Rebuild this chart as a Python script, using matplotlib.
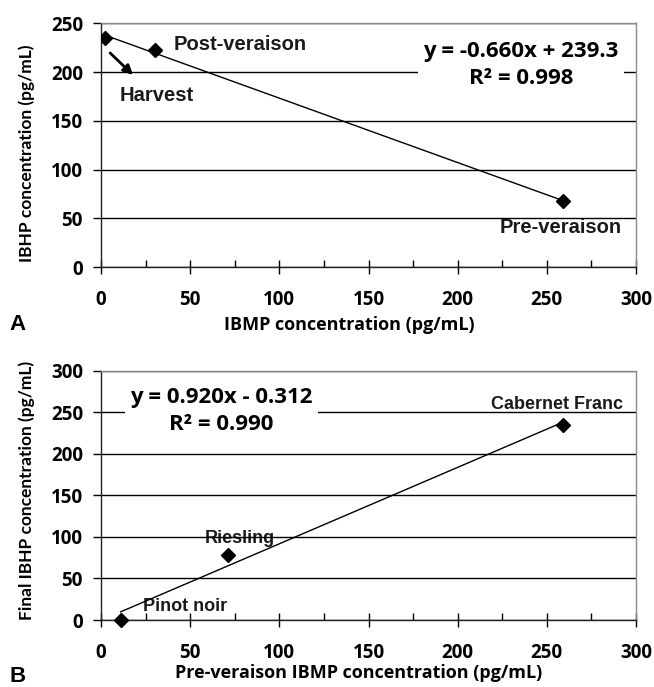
import matplotlib
matplotlib.use('Agg')
import matplotlib.pyplot as plt
import matplotlib.transforms as mtransforms
from matplotlib.ticker import MultipleLocator
import numpy as np

# panel A: IBMP vs IBHP over ripening
a_labels = ['Harvest', 'Post-veraison', 'Pre-veraison']
a_ibmp = [2, 30, 259]
a_ibhp = [235, 223, 68]
a_slope, a_icpt, a_r2 = -0.660, 239.3, 0.998

# panel B: pre-veraison IBMP vs final IBHP per cultivar
b_labels = ['Pinot noir', 'Riesling', 'Cabernet Franc']
b_ibmp = [11, 71, 259]
b_ibhp = [0, 78, 235]
b_slope, b_icpt, b_r2 = 0.920, -0.312, 0.990

CAL = 'Open Sans'          # horizontal Calibri-ish text (the scan is stretched)
CALV = 'Lato'              # narrower face for the rotated labels
ARI = 'Liberation Sans'    # Arial

fig = plt.figure(figsize=(6.54, 6.87), dpi=100)
W, H = 654, 687


def px_axes(l, t, r, b):
    return fig.add_axes([l / W, 1 - b / H, (r - l) / W, (b - t) / H])


def style(ax, ymax):
    ax.set_xlim(0, 300)
    ax.set_ylim(0, ymax)
    ax.xaxis.set_major_locator(MultipleLocator(50))
    ax.xaxis.set_minor_locator(MultipleLocator(25))
    ax.yaxis.set_major_locator(MultipleLocator(50))
    ax.grid(axis='y', color='black', lw=1.0)
    ax.set_axisbelow(True)   # grid at zorder 0.5
    for s in ['top', 'right']:
        ax.spines[s].set_color('#8a8a8a')
        ax.spines[s].set_linewidth(1.0)
    for s in ['left', 'bottom']:
        ax.spines[s].set_color('#222222')
        ax.spines[s].set_linewidth(1.0)
    ax.tick_params(axis='x', which='major', direction='inout', length=10,
                   width=1, pad=11.5, labelsize=13.5)
    ax.tick_params(axis='x', which='minor', direction='in', length=5, width=1)
    ax.tick_params(axis='y', which='major', direction='out', length=6,
                   width=1, pad=7, labelsize=13.5)
    for lab in ax.get_xticklabels() + ax.get_yticklabels():
        lab.set_fontfamily(CAL)
        lab.set_fontweight('bold')


def fit_line(ax, xs, slope, icpt):
    xx = np.array([min(xs), max(xs)])
    ax.plot(xx, slope * xx + icpt, color='black', lw=1.0, zorder=3)


def pt_label(ax, x, y, text, dx, dy, size, ha='center'):
    # drawn under the gridlines, like the original
    ax.annotate(text, (x, y), xytext=(dx, -dy), textcoords='offset pixels',
                ha=ha, va='center', fontsize=size, fontweight='bold',
                family=ARI, color='#1a1a1a', zorder=0.3)


def eq_text(ax, x, y, slope, icpt, r2, ifmt):
    sign = '+' if icpt >= 0 else '-'
    s = ('y = %.3fx %s ' + ifmt + '\nR² = %.3f') % (slope, sign, abs(icpt), r2)
    ax.text(x, y, s, ha='center', va='center', fontsize=16, fontweight='bold',
            family=CAL, linespacing=1.4, zorder=5,
            bbox=dict(boxstyle='square,pad=0.25', fc='white', ec='none'))


# ---------- panel A ----------
axA = px_axes(101, 23.3, 636, 267.3)
style(axA, 250)
fit_line(axA, a_ibmp, a_slope, a_icpt)
axA.plot(a_ibmp, a_ibhp, 'D', color='black', ms=7.5, zorder=4)
pt_label(axA, a_ibmp[0], a_ibhp[0], a_labels[0], 15.5, 58, 14.5, ha='left')
pt_label(axA, a_ibmp[1], a_ibhp[1], a_labels[1], 18.7, -5, 14.5, ha='left')
pt_label(axA, a_ibmp[2], a_ibhp[2], a_labels[2], -2, 27, 14.5)

# Harvest arrow
tail = mtransforms.offset_copy(axA.transData, fig, x=5.5, y=-15, units='dots')
head = mtransforms.offset_copy(axA.transData, fig, x=28.5, y=-37, units='dots')
axA.annotate('', xy=(a_ibmp[0], a_ibhp[0]), xycoords=head,
             xytext=(a_ibmp[0], a_ibhp[0]), textcoords=tail,
             arrowprops=dict(arrowstyle='-|>', color='black', lw=2.0,
                             mutation_scale=14, shrinkA=0, shrinkB=0))

eq_text(axA, 235.5, 207.5, a_slope, a_icpt, a_r2, '%.1f')

axA.set_xlabel('IBMP concentration (pg/mL)', family=CAL, fontweight='bold',
               fontsize=13)
axA.set_ylabel('IBHP concentration (pg/mL)', family=CALV, fontweight='bold',
               fontsize=12.5)
axA.xaxis.set_label_coords(0.465, -0.236)
axA.yaxis.set_label_coords(-0.138, 0.468)
axA.xaxis.label.set_va('center')
axA.yaxis.label.set_va('center')

# ---------- panel B ----------
axB = px_axes(101, 370.7, 636, 620)
style(axB, 300)
fit_line(axB, b_ibmp, b_slope, b_icpt)
axB.plot(b_ibmp, b_ibhp, 'D', color='black', ms=7.5, zorder=4, clip_on=False)
pt_label(axB, b_ibmp[0], b_ibhp[0], b_labels[0], 22.3, -13.3, 13, ha='left')
pt_label(axB, b_ibmp[1], b_ibhp[1], b_labels[1], 12.5, -16.7, 13)
pt_label(axB, b_ibmp[2], b_ibhp[2], b_labels[2], -6, -20.7, 13)

eq_text(axB, 67.6, 251.5, b_slope, b_icpt, b_r2, '%.3f')

axB.set_xlabel('Pre-veraison IBMP concentration (pg/mL)', family=CAL,
               fontweight='bold', fontsize=13)
axB.set_ylabel('Final IBHP concentration (pg/mL)', family=CALV,
               fontweight='bold', fontsize=12.5)
axB.xaxis.set_label_coords(0.482, -0.213)
axB.yaxis.set_label_coords(-0.138, 0.521)
axB.xaxis.label.set_va('center')
axB.yaxis.label.set_va('center')

fig.text(17 / W, 1 - 325 / H, 'A', family=ARI, fontweight='bold',
         fontsize=16, ha='center', va='center')
fig.text(18 / W, 1 - 676 / H, 'B', family=ARI, fontweight='bold',
         fontsize=16, ha='center', va='center')

fig.savefig('out.png', dpi=100)
